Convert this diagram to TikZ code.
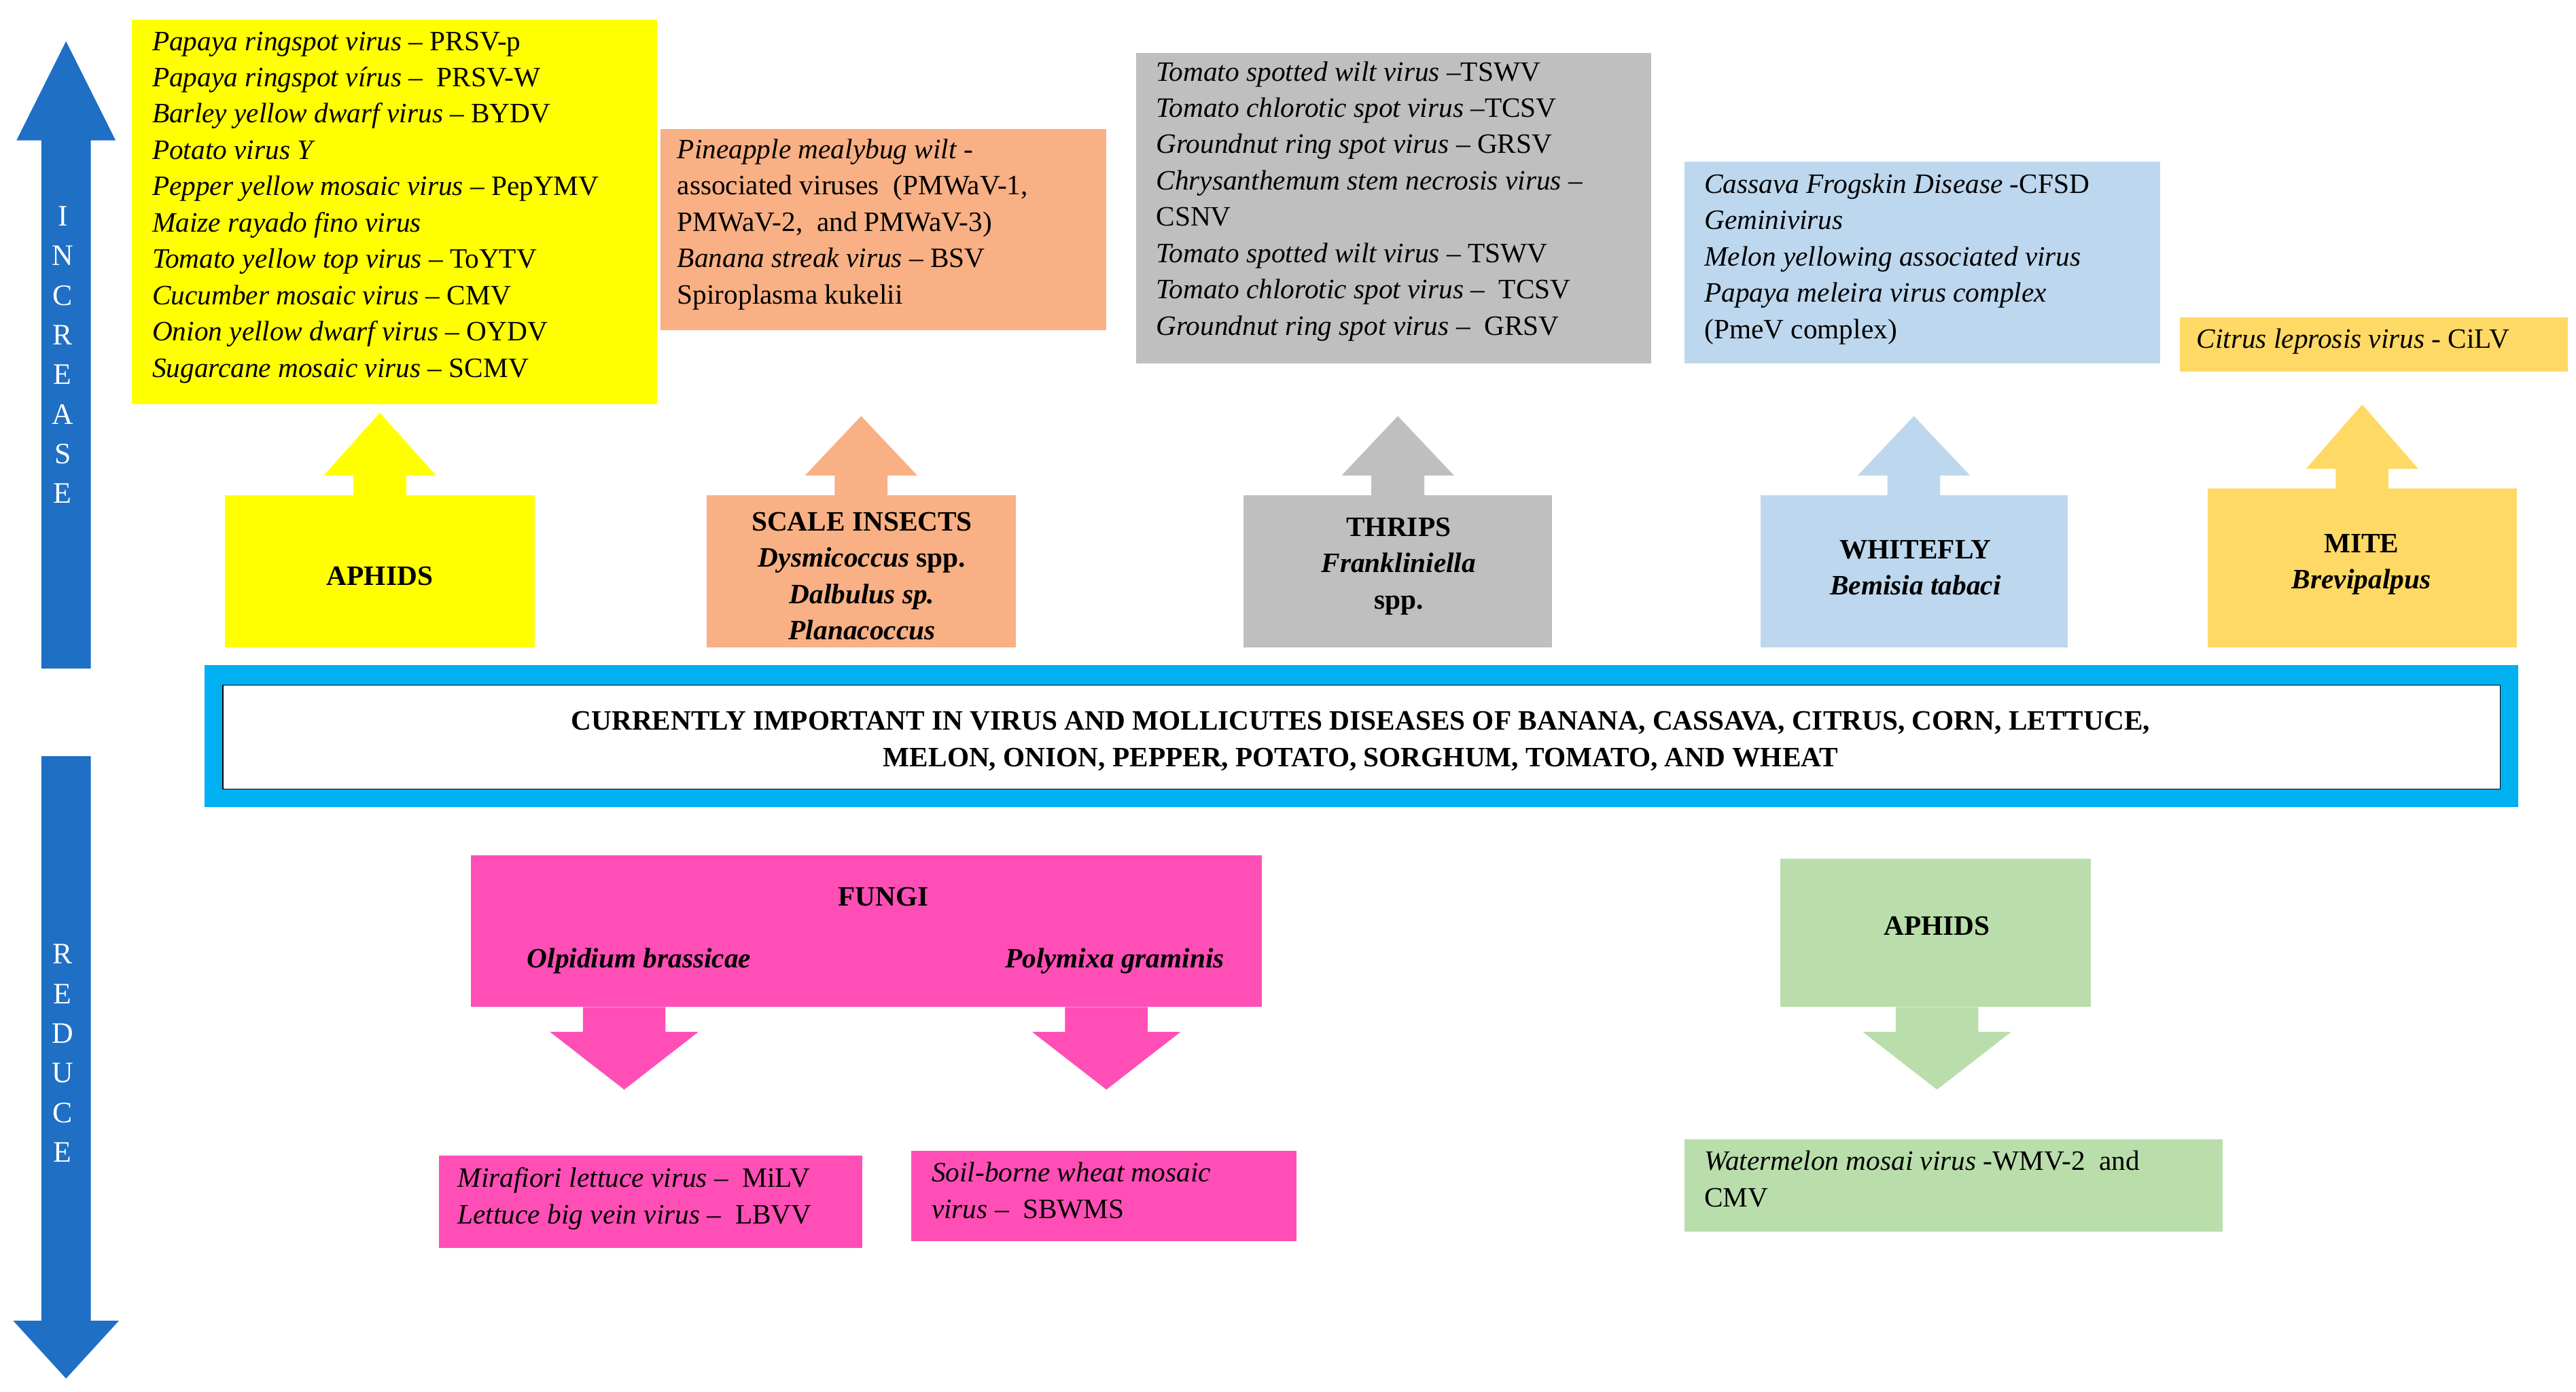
\documentclass[tikz,border=0pt]{standalone}
\usepackage{fontspec}
\setmainfont{Liberation Serif}
\usetikzlibrary{positioning}
\definecolor{arrowblue}{HTML}{1F6FC5}
\definecolor{boxblue}{HTML}{00B0F0}
\definecolor{cyellow}{HTML}{FFFF00}
\definecolor{corange}{HTML}{F8B084}
\definecolor{cgray}{HTML}{BFBFBF}
\definecolor{clblue}{HTML}{BDD7EE}
\definecolor{cgold}{HTML}{FFD966}
\definecolor{cpink}{HTML}{FF4FB6}
\definecolor{cgreen}{HTML}{B9DEAB}
\tikzset{
  % lists of viruses
  list/.style={anchor=north west,inner sep=0pt,align=left,
    font=\fontsize{17}{22}\selectfont},
  % vector names
  vec/.style={inner sep=0pt,align=center,
    font=\fontsize{17}{22}\selectfont\bfseries},
  vert/.style={text=white,font=\fontsize{18}{22}\selectfont}
}
% up arrow block: colour, left, right, top of block, bottom, apex y
\newcommand{\upblock}[6]{%
  \pgfmathsetmacro{\cx}{(#2+#3)/2}
  \fill[#1] (#2,#5) rectangle (#3,#4);
  \fill[#1] (\cx-16,#4) -- (\cx-16,#4-12) -- (\cx-34,#4-12) -- (\cx,#6)
    -- (\cx+34,#4-12) -- (\cx+16,#4-12) -- (\cx+16,#4) -- cycle;}
% down arrow: colour, centre x, top y, apex y
\newcommand{\downhead}[4]{%
  \fill[#1] (#2-25,#3) -- (#2-25,#3+15) -- (#2-45,#3+15) -- (#2,#4)
    -- (#2+45,#3+15) -- (#2+25,#3+15) -- (#2+25,#3) -- cycle;}
\begin{document}
\begin{tikzpicture}[x=1pt,y=-1pt]
  \useasboundingbox (0,0) rectangle (1560,843);
  % side arrows
  \fill[arrowblue] (25,405) -- (25,85) -- (10,85) -- (40,25) -- (70,85)
    -- (55,85) -- (55,405) -- cycle;
  \fill[arrowblue] (25,458) -- (25,800) -- (8,800) -- (40,835) -- (72,800)
    -- (55,800) -- (55,458) -- cycle;
  \foreach \ch [count=\i] in {I,N,C,R,E,A,S,E}
    \node[vert] (inc\i) at (38,107+\i*24) {\ch};
  \foreach \ch [count=\i] in {R,E,D,U,C,E}
    \node[vert] (red\i) at (38,554+\i*24) {\ch};
  % upper boxes
  \fill[cyellow] (80,12) rectangle (398,245);
  \node[list] (yl) at (92,19) {\textit{Papaya ringspot virus} -- PRSV-p\\
    \textit{Papaya ringspot vírus} --\ \ PRSV-W\\
    \textit{Barley yellow dwarf virus} -- BYDV\\
    \textit{Potato virus Y}\\
    \textit{Pepper yellow mosaic virus} -- PepYMV\\
    \textit{Maize rayado fino virus}\\
    \textit{Tomato yellow top virus} -- ToYTV\\
    \textit{Cucumber mosaic virus} -- CMV\\
    \textit{Onion yellow dwarf virus} -- OYDV\\
    \textit{Sugarcane mosaic virus} -- SCMV};
  \fill[corange] (400,78) rectangle (670,200);
  \node[list] (ol) at (410,84) {\textit{Pineapple mealybug wilt} -\\
    associated viruses\ \ (PMWaV-1,\\
    PMWaV-2,\ \ and PMWaV-3)\\
    \textit{Banana streak virus} -- BSV\\
    Spiroplasma kukelii};
  \fill[cgray] (688,32) rectangle (1000,220);
  \node[list] (gl) at (700,37) {\textit{Tomato spotted wilt virus} --TSWV\\
    \textit{Tomato chlorotic spot virus} --TCSV\\
    \textit{Groundnut ring spot virus} -- GRSV\\
    \textit{Chrysanthemum stem necrosis virus} --\\
    CSNV\\
    \textit{Tomato spotted wilt virus} -- TSWV\\
    \textit{Tomato chlorotic spot virus} --\ \ TCSV\\
    \textit{Groundnut ring spot virus} --\ \ GRSV};
  \fill[clblue] (1020,98) rectangle (1308,220);
  \node[list] (bl) at (1032,105) {\textit{Cassava Frogskin Disease} -CFSD\\
    \textit{Geminivirus}\\
    \textit{Melon yellowing associated virus}\\
    \textit{Papaya meleira virus complex}\\
    (PmeV complex)};
  \fill[cgold] (1320,192) rectangle (1555,225);
  \node[list] (ml) at (1330,199) {\textit{Citrus leprosis virus} - CiLV};
  % vector blocks
  \upblock{cyellow}{136}{324}{300}{392}{250}
  \node[vec] (aphids) at (230,349) {APHIDS};
  \upblock{corange}{428}{615}{300}{392}{252}
  \node[vec] (scale) at (522,349) {SCALE INSECTS\\
    \textit{Dysmicoccus} spp.\\ \textit{Dalbulus sp.}\\ \textit{Planacoccus}};
  \upblock{cgray}{753}{940}{300}{392}{252}
  \node[vec] (thrips) at (847,343) {THRIPS\\ \textit{Frankliniella}\\ spp.};
  \upblock{clblue}{1066}{1252}{300}{392}{252}
  \node[vec] (whitefly) at (1160,344) {WHITEFLY\\ \textit{Bemisia tabaci}};
  \upblock{cgold}{1337}{1524}{296}{392}{245}
  \node[vec] (mite) at (1430,342) {MITE\\ \textit{Brevipalpus}};
  % central box
  \fill[boxblue] (124,403) rectangle (1525,489);
  \fill[white,draw=black,line width=0.6pt] (135,415) rectangle (1514,478);
  \node[vec] (main) at (824,449) {CURRENTLY IMPORTANT IN VIRUS AND MOLLICUTES
    DISEASES OF BANANA, CASSAVA, CITRUS, CORN, LETTUCE,\\
    MELON, ONION, PEPPER, POTATO, SORGHUM, TOMATO, AND WHEAT};
  % fungi
  \fill[cpink] (285,518) rectangle (764,610);
  \node[vec] (fungi) at (535,543) {FUNGI};
  \node[vec] (olp) at (387,582) {\textit{Olpidium brassicae}};
  \node[vec] (poly) at (675,582) {\textit{Polymixa graminis}};
  \downhead{cpink}{378}{610}{660}
  \downhead{cpink}{670}{610}{660}
  \fill[cpink] (266,700) rectangle (522,756);
  \node[list] (pl1) at (277,707) {\textit{Mirafiori lettuce virus} --\ \ MiLV\\
    \textit{Lettuce big vein virus} --\ \ LBVV};
  \fill[cpink] (552,697) rectangle (785,752);
  \node[list] (pl2) at (564,704) {\textit{Soil-borne wheat mosaic}\\
    \textit{virus} --\ \ SBWMS};
  % aphids (reduce)
  \fill[cgreen] (1078,520) rectangle (1266,610);
  \node[vec] (aphids2) at (1173,561) {APHIDS};
  \downhead{cgreen}{1173}{610}{660}
  \fill[cgreen] (1020,690) rectangle (1346,746);
  \node[list] (grl) at (1032,697) {\textit{Watermelon mosai virus} -WMV-2\ \ and\\
    CMV};
\end{tikzpicture}
\end{document}
